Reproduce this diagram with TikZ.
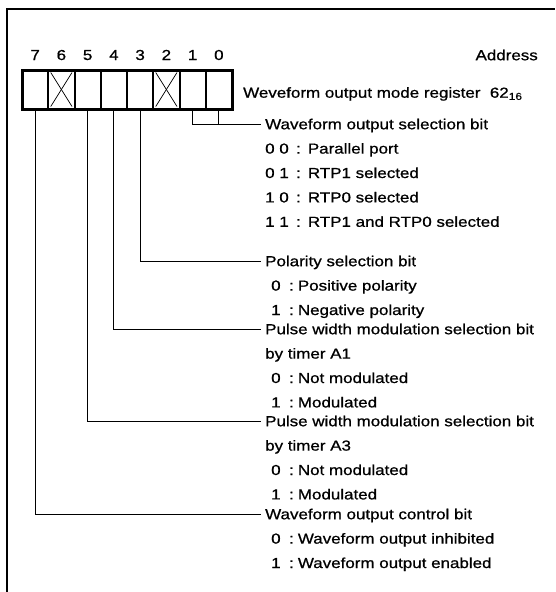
\documentclass[tikz,border=0pt]{standalone}
\usepackage{fontspec}
\setmainfont[FakeStretch=1.17, FakeBold=0.8]{Liberation Sans}
\usetikzlibrary{positioning}
\newcommand{\twobit}[2]{\makebox[31pt][l]{#1}:\hspace{7pt}#2}
\newcommand{\onebit}[2]{\makebox[18pt][l]{#1}:\hspace{4pt}#2}
\tikzset{
  lbl/.style={font=\fontsize{14.5}{17}\selectfont, inner xsep=4pt, inner ysep=4.7pt,
    text height=12.5pt, text depth=2.1pt},
  head/.style={lbl, anchor=west},
  row/.style={lbl},
  cell/.style={rectangle, draw, line width=2pt, outer sep=0pt, inner sep=0pt,
    minimum width=26.25pt, minimum height=39pt},
  frame/.style={line width=2.6pt},
  lead/.style={line width=0.9pt},
  cross/.style={line width=0.7pt},
}

\begin{document}
\begin{tikzpicture}[x=1pt, y=1pt]
    \useasboundingbox (0,0) rectangle (555,-592);
    \draw[frame] (7,-592) |- (555,-9);
    % register cells
    \node[cell] (c7) at (35.125,-89.5) {};
    \node[cell, right=0pt of c7] (c6) {};
    \node[cell, right=0pt of c6] (c5) {};
    \node[cell, right=0pt of c5] (c4) {};
    \node[cell, right=0pt of c4] (c3) {};
    \node[cell, right=0pt of c3] (c2) {};
    \node[cell, right=0pt of c2] (c1) {};
    \node[cell, right=0pt of c1] (c0) {};
    \draw[line width=3pt] (c7.north west) rectangle (c0.south east);
    \draw[cross] ([shift={(2.5,-2.5)}]c6.north west) -- ([shift={(-2.5,2.5)}]c6.south east);
    \draw[cross] ([shift={(-2.5,-2.5)}]c6.north east) -- ([shift={(2.5,2.5)}]c6.south west);
    \draw[cross] ([shift={(2.5,-2.5)}]c2.north west) -- ([shift={(-2.5,2.5)}]c2.south east);
    \draw[cross] ([shift={(-2.5,-2.5)}]c2.north east) -- ([shift={(2.5,2.5)}]c2.south west);
    % bit numbers
    \node[lbl, above=3pt of c7] (b7) {7};
    \node[lbl, above=3pt of c6] (b6) {6};
    \node[lbl, above=3pt of c5] (b5) {5};
    \node[lbl, above=3pt of c4] (b4) {4};
    \node[lbl, above=3pt of c3] (b3) {3};
    \node[lbl, above=3pt of c2] (b2) {2};
    \node[lbl, above=3pt of c1] (b1) {1};
    \node[lbl, above=3pt of c0] (b0) {0};
    \node[lbl, anchor=east] (addr) at (542,-55) {Address};
    \node[lbl, right=7pt of c0, yshift=-3pt] (reg) {Weveform output mode register\ \ 62\textsubscript{16}};
    % bits 1, 0
    \node[head] (selhd) at (261,-124) {Waveform output selection bit};
    \node[row, below right=0pt and 0pt of selhd.south west] (sel00) {\twobit{0 0}{Parallel port}};
    \node[row, below right=0pt and 0pt of sel00.south west] (sel01) {\twobit{0 1}{RTP1 selected}};
    \node[row, below right=0pt and 0pt of sel01.south west] (sel10) {\twobit{1 0}{RTP0 selected}};
    \node[row, below right=0pt and 0pt of sel10.south west] (sel11) {\twobit{1 1}{RTP1 and RTP0 selected}};
    % bit 3
    \node[head] (polhd) at (261,-261) {Polarity selection bit};
    \node[row, below right=0pt and 6pt of polhd.south west] (pol0) {\onebit{0}{Positive polarity}};
    \node[row, below right=0pt and 0pt of pol0.south west] (pol1) {\onebit{1}{Negative polarity}};
    % bit 4
    \node[head] (pwm1hd) at (261,-329) {Pulse width modulation selection bit};
    \node[row, below right=0pt and 0pt of pwm1hd.south west] (pwm1by) {by timer A1};
    \node[row, below right=0pt and 6pt of pwm1by.south west] (pwm1a) {\onebit{0}{Not modulated}};
    \node[row, below right=0pt and 0pt of pwm1a.south west] (pwm1b) {\onebit{1}{Modulated}};
    % bit 5
    \node[head] (pwm3hd) at (261,-421) {Pulse width modulation selection bit};
    \node[row, below right=0pt and 0pt of pwm3hd.south west] (pwm3by) {by timer A3};
    \node[row, below right=0pt and 6pt of pwm3by.south west] (pwm3a) {\onebit{0}{Not modulated}};
    \node[row, below right=0pt and 0pt of pwm3a.south west] (pwm3b) {\onebit{1}{Modulated}};
    % bit 7
    \node[head] (ctlhd) at (261,-514) {Waveform output control bit};
    \node[row, below right=0pt and 6pt of ctlhd.south west] (ctl0) {\onebit{0}{Waveform output inhibited}};
    \node[row, below right=0pt and 0pt of ctl0.south west] (ctl1) {\onebit{1}{Waveform output enabled}};
    % leaders
    \draw[lead] (c1.south) |- (selhd.west);
    \draw[lead] (c0.south) -- (c0.south |- selhd.west);
    \draw[lead] (c3.south) |- (polhd.west);
    \draw[lead] (c4.south) |- (pwm1hd.west);
    \draw[lead] (c5.south) |- (pwm3hd.west);
    \draw[lead] (c7.south) |- (ctlhd.west);
  \end{tikzpicture}
\end{document}
